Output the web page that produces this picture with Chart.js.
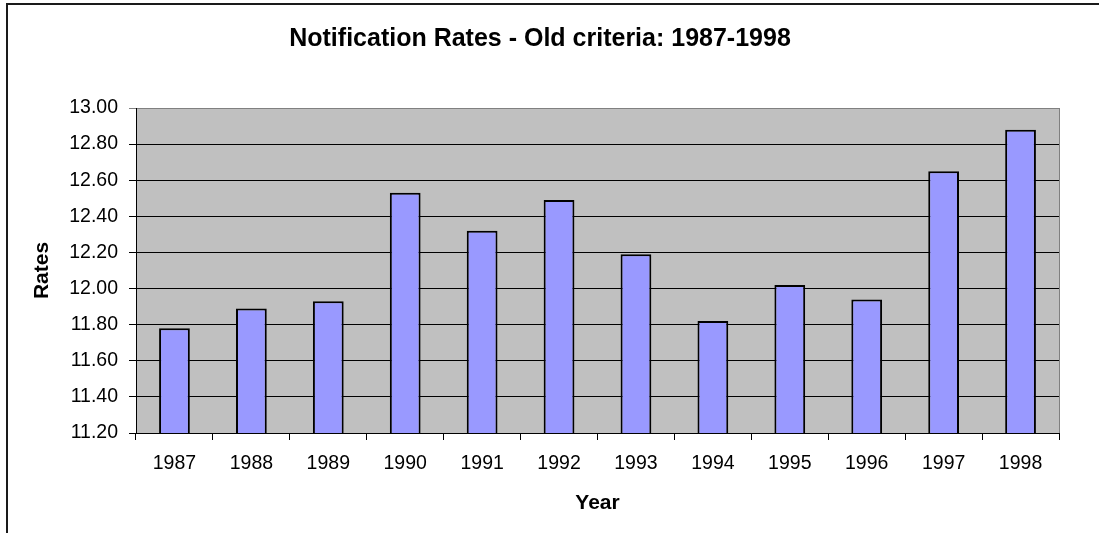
<!DOCTYPE html>
<html>
<head>
<meta charset="utf-8">
<title>Notification Rates</title>
<script src="https://cdn.jsdelivr.net/npm/chart.js@4/dist/chart.umd.min.js"></script>
<style>
  html, body { margin: 0; padding: 0; background: #fff; }
  canvas { display: block; }
</style>
</head>
<body>
<canvas id="rateChart" width="1099" height="533"></canvas>
<script>
// values
const years = ['1987', '1988', '1989', '1990', '1991', '1992', '1993', '1994', '1995', '1996', '1997', '1998']
const rates = [11.78, 11.89, 11.93, 12.53, 12.32, 12.49, 12.19, 11.82, 12.02, 11.94, 12.65, 12.88]
const rateMin = 11.2
const rateMax = 13.0
const rateStep = 0.2

const FONT = '"Liberation Sans", Arial, Helvetica, sans-serif'

// grey plot area plus the outer chart frame, Excel style
const frame = {
  id: 'frame',
  beforeDraw(chart) {
    const ctx = chart.ctx
    const a = chart.chartArea
    ctx.save()
    ctx.fillStyle = '#fff'
    ctx.fillRect(0, 0, chart.width, chart.height)
    ctx.fillStyle = '#C0C0C0'
    ctx.fillRect(a.left, a.top, a.right - a.left, a.bottom - a.top)
    ctx.strokeStyle = '#1a1a1a'
    ctx.lineWidth = 2
    ctx.strokeRect(7, 4, chart.width + 20, chart.height + 20)
    ctx.restore()
  },
  afterDatasetsDraw(chart) {
    const ctx = chart.ctx
    const a = chart.chartArea
    ctx.save()
    ctx.strokeStyle = '#808080'
    ctx.lineWidth = 1
    ctx.beginPath()
    ctx.moveTo(Math.round(a.right) + 0.5, a.top)
    ctx.lineTo(Math.round(a.right) + 0.5, a.bottom)
    ctx.stroke()
    ctx.restore()
  }
}

const ctx = document.getElementById('rateChart').getContext('2d')
const rateChart = new Chart(ctx, {
  type: 'bar',
  data: {
    labels: years,
    datasets: [{
      label: 'Rates',
      data: rates,
      backgroundColor: '#9999FF',
      borderColor: '#000',
      borderWidth: 2,
      barPercentage: 0.4,
      categoryPercentage: 1.0
    }]
  },
  options: {
    responsive: false,
    animation: false,
    layout: {
      padding: { left: 21, right: 40, top: 0, bottom: 0 }
    },
    plugins: {
      legend: { display: false },
      tooltip: { enabled: false },
      title: {
        display: true,
        text: 'Notification Rates - Old criteria: 1987-1998',
        color: '#000',
        font: { family: FONT, size: 25, weight: 'bold' },
        padding: { top: 24.5, bottom: 53.5 }
      }
    },
    scales: {
      x: {
        afterFit: (scale) => { scale.height = 100 },
        grid: {
          offset: true,
          drawOnChartArea: false,
          drawTicks: true,
          tickLength: 7,
          color: '#000'
        },
        border: { display: true, color: '#000', width: 1 },
        ticks: {
          color: '#000',
          padding: 12,
          font: { family: FONT, size: 19.5 }
        },
        title: {
          display: true,
          text: 'Year',
          color: '#000',
          font: { family: FONT, size: 21, weight: 'bold' },
          padding: { top: 0, bottom: 17.4 }
        }
      },
      y: {
        min: rateMin,
        max: rateMax,
        afterFit: (scale) => { scale.width = 115 },
        grid: {
          drawTicks: true,
          tickLength: 7,
          color: (c) => (c.tick && Math.abs(c.tick.value - rateMax) < 1e-6 ? '#808080' : '#000')
        },
        border: { display: true, color: '#000', width: 1 },
        ticks: {
          stepSize: rateStep,
          color: '#000',
          padding: 11,
          font: { family: FONT, size: 19.5 },
          callback: (v) => Number(v).toFixed(2)
        },
        title: {
          display: true,
          text: 'Rates',
          color: '#000',
          font: { family: FONT, size: 21, weight: 'bold' },
          padding: { top: 8.4, bottom: 0 }
        }
      }
    }
  },
  plugins: [frame]
})
</script>
</body>
</html>
